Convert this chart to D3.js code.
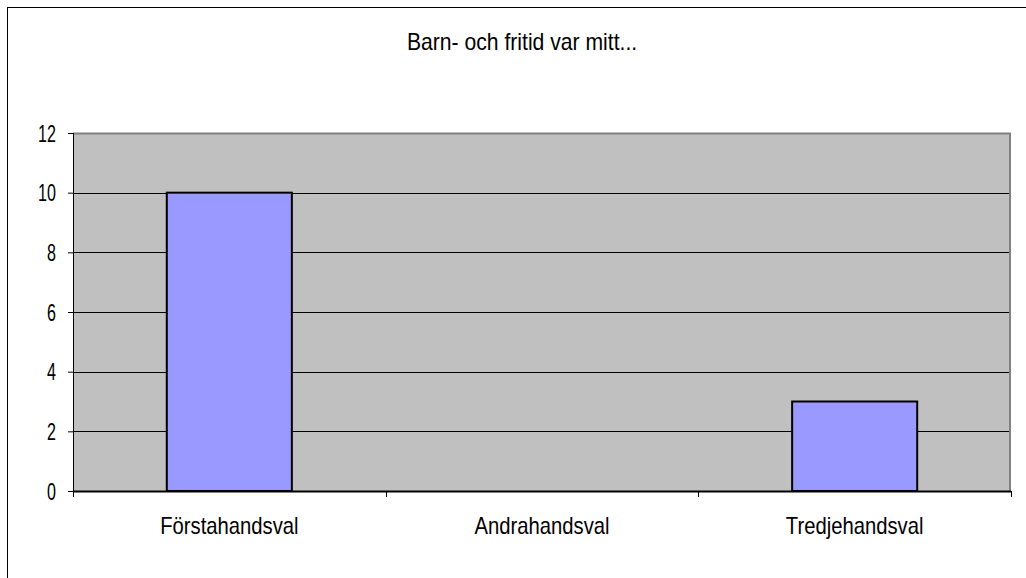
<!DOCTYPE html>
<html>
<head>
<meta charset="utf-8">
<script src="https://cdn.jsdelivr.net/npm/d3@7"></script>
<style>
  body { margin: 0; background: #fff; }
  svg { display: block; }
  text { font-family: "Liberation Sans", Arial, sans-serif; fill: #000; }
</style>
</head>
<body>
<div id="chart"></div>
<script>
	// data
	var title = "Barn- och fritid var mitt...";
	var categories = ["Förstahandsval", "Andrahandsval", "Tredjehandsval"];
	var values = [10, 0, 3];
	var yTicks = [0, 2, 4, 6, 8, 10, 12];

	var width = 1026, height = 578;
	var margin = {left: 73, right: 15, top: 133, bottom: 87};
	var plotw = width - margin.left - margin.right;
	var ploth = height - margin.top - margin.bottom;

	// the original font is a condensed sans, so squeeze text horizontally
	var squeeze = 0.88, digitSqueeze = 0.7;

	var svg = d3.select("#chart").append("svg")
		.attr("width", width)
		.attr("height", height);

	// outer frame (continues past the window on right / bottom)
	svg.append("rect")
		.attr("x", 7.5).attr("y", 7.5)
		.attr("width", 1040).attr("height", 600)
		.attr("fill", "none")
		.attr("stroke", "#000")
		.attr("stroke-width", 1);

	svg.append("text")
		.attr("transform", `translate(522,50) scale(0.92,1)`)
		.attr("text-anchor", "middle")
		.style("font-size", "23px")
		.text(title);

	var xScale = d3.scaleBand()
		.domain(categories)
		.range([0, plotw])
		.paddingInner(0.6)
		.paddingOuter(0.3);

	var yScale = d3.scaleLinear()
		.domain([0, 12])
		.range([ploth, 0]);

	var g = svg.append("g")
		.attr("transform", `translate(${margin.left},${margin.top})`);

	// plot background
	g.append("rect")
		.attr("width", plotw).attr("height", ploth)
		.attr("fill", "#c0c0c0");

	// gridlines
	g.selectAll("line.grid")
		.data(yTicks.filter(d => d > 0 && d < 12))
		.join("line")
		.attr("class", "grid")
		.attr("x1", 0).attr("x2", plotw)
		.attr("y1", d => Math.round(yScale(d)) + 0.5)
		.attr("y2", d => Math.round(yScale(d)) + 0.5)
		.attr("stroke", "#000")
		.attr("stroke-width", 1);

	// top / right border in gray
	g.append("path")
		.attr("d", `M0,0.5H${plotw - 1}V${ploth}`)
		.attr("fill", "none")
		.attr("stroke", "#808080")
		.attr("stroke-width", 2);

	// bars
	g.selectAll("rect.bar")
		.data(values.map((v, i) => ({cat: categories[i], v: v})).filter(d => d.v > 0))
		.join("rect")
		.attr("class", "bar")
		.attr("x", d => xScale(d.cat))
		.attr("y", d => yScale(d.v))
		.attr("width", xScale.bandwidth())
		.attr("height", d => ploth - yScale(d.v))
		.attr("fill", "#9999ff")
		.attr("stroke", "#000")
		.attr("stroke-width", 2);

	// y axis
	var yAxis = g.append("g")
		.call(d3.axisLeft(yScale).tickValues(yTicks).tickSize(5).tickPadding(12).tickFormat(d3.format("d")));
	yAxis.select(".domain").attr("d", `M0.5,0V${ploth}`).attr("stroke", "#000");
	yAxis.selectAll("line").attr("stroke", "#000");
	yAxis.selectAll("text")
		.attr("font-family", null)
		.attr("x", -17 / digitSqueeze)
		.attr("dy", "0.36em")
		.attr("transform", `scale(${digitSqueeze},1)`)
		.style("font-size", "23px");

	// x axis: ticks at category boundaries
	var xg = g.append("g").attr("transform", `translate(0,${ploth})`);
	xg.append("line")
		.attr("x1", 0).attr("x2", plotw)
		.attr("y1", 0.5).attr("y2", 0.5)
		.attr("stroke", "#000").attr("stroke-width", 2);
	var step = xScale.step();
	var bounds = d3.range(categories.length + 1).map(i => i * step);
	xg.selectAll("line.tick")
		.data(bounds)
		.join("line")
		.attr("class", "tick")
		.attr("x1", d => Math.round(d) + 0.5).attr("x2", d => Math.round(d) + 0.5)
		.attr("y1", 0).attr("y2", 6)
		.attr("stroke", "#000");
	xg.selectAll("text.cat")
		.data(categories)
		.join("text")
		.attr("class", "cat")
		.attr("transform", d => `translate(${xScale(d) + xScale.bandwidth() / 2},43) scale(${squeeze},1)`)
		.attr("text-anchor", "middle")
		.style("font-size", "23px")
		.text(d => d);
</script>
</body>
</html>
